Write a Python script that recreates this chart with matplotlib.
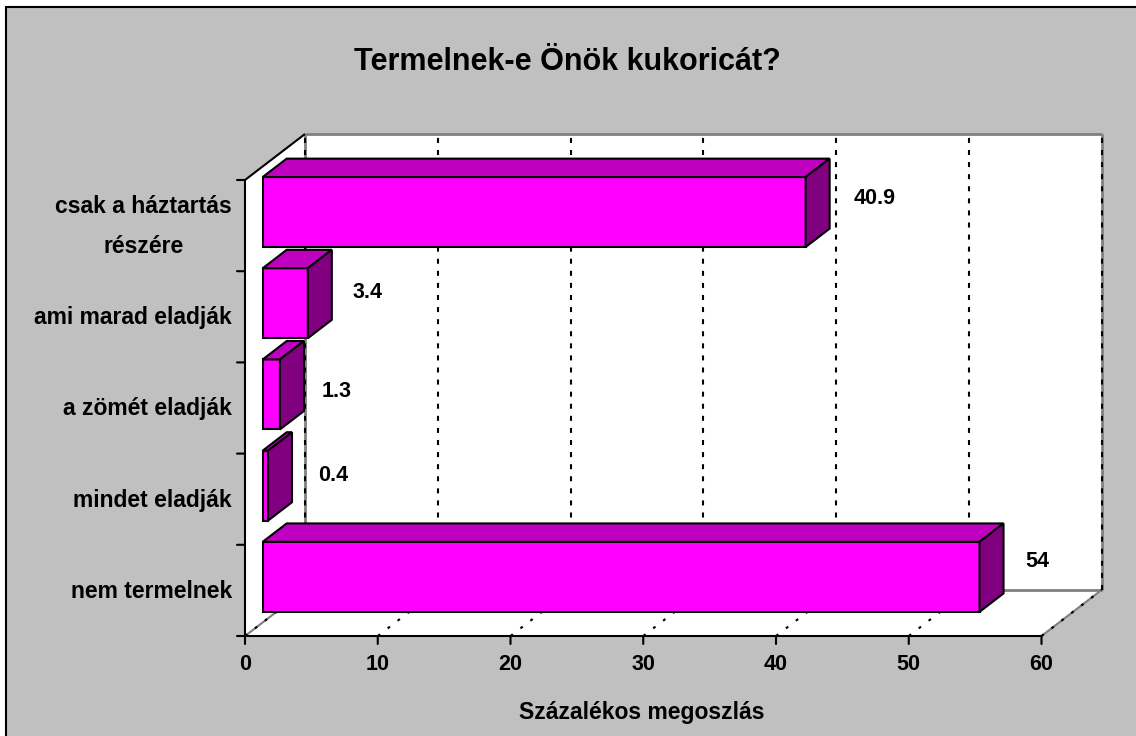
import matplotlib
matplotlib.use("Agg")
import matplotlib.pyplot as plt
from matplotlib.patches import Polygon, Rectangle

plt.rcParams['font.family'] = ['Liberation Sans', 'DejaVu Sans']
plt.rcParams['font.weight'] = 'bold'

title = "Termelnek-e Önök kukoricát?"
xlabel = "Százalékos megoszlás"
categories = ["nem termelnek", "mindet eladják", "a zömét eladják", "ami marad eladják", "csak a háztartás\nrészére"]
values = [54, 0.4, 1.3, 3.4, 40.9]
x_ticks = [0, 10, 20, 30, 40, 50, 60]

# pixel offsets of the value labels from the bar end
label_dx = [58, 65, 57, 60, 69]
label_dy = [15, 10, 3, 11, 14]

W, H = 1136, 736
X0, X1 = 245, 1041.5
Y0, Y1 = 636, 180
DEPTH_X, DEPTH_Y = 60, 46
BAR_D0, BAR_D1 = 0.295, 0.695
BAR_H = 70 / 91.2
LW = 1.5

fig = plt.figure(figsize=(W / 100, H / 100), dpi=100, facecolor='white')
ax = fig.add_axes([X0 / W, 1 - Y0 / H, (X1 - X0) / W, (Y0 - Y1) / H])
ax.set_xlim(0, x_ticks[-1])
ax.set_ylim(0, len(categories))
ax.axis('off')

sx = x_ticks[-1] / (X1 - X0)
sy = len(categories) / (Y0 - Y1)
xmax = x_ticks[-1]
ymax = len(categories)


def pt(v, c, d=0.0):
    # value, category position and depth (0 front, 1 back) to axes data coords
    return (v + d * DEPTH_X * sx, c + d * DEPTH_Y * sy)


def poly(points, face, edge='black', lw=LW, z=2):
    ax.add_patch(Polygon(points, closed=True, facecolor=face, edgecolor=edge, linewidth=lw,
                         zorder=z, clip_on=False, joinstyle='miter'))


def line(a, b, **kw):
    ax.plot([a[0], b[0]], [a[1], b[1]], clip_on=False, solid_capstyle='butt', dash_capstyle='butt', **kw)


# background panel
fig.add_artist(Rectangle((6 / W, -0.01), 1.1, 1 - 7 / H + 0.01, transform=fig.transFigure,
                         facecolor='#c0c0c0', edgecolor='black', linewidth=LW, zorder=-5))

# walls
poly([pt(0, 0, 1), pt(xmax, 0, 1), pt(xmax, ymax, 1), pt(0, ymax, 1)], 'white', edge='none', lw=0, z=1)
poly([pt(0, 0), pt(xmax, 0), pt(xmax, 0, 1), pt(0, 0, 1)], 'white', edge='none', lw=0, z=1)
poly([pt(0, 0), pt(0, 0, 1), pt(0, ymax, 1), pt(0, ymax)], 'white', edge='none', lw=0, z=1)

gray = '#808080'
line(pt(0, 0, 1), pt(xmax, 0, 1), color=gray, lw=2, zorder=1.2)
line(pt(xmax, 0, 1), pt(xmax, ymax, 1), color=gray, lw=2, zorder=1.2)
line(pt(0, ymax, 1), pt(xmax, ymax, 1), color=gray, lw=2, zorder=1.2)
line(pt(0, 0, 1), pt(0, ymax, 1), color=gray, lw=2, zorder=1.2)
line(pt(0, 0), pt(0, 0, 1), color=gray, lw=LW, zorder=1.2)
line(pt(xmax, 0), pt(xmax, 0, 1), color=gray, lw=LW, zorder=1.2)

# dashed grid on back wall and floor
for t in x_ticks:
    line(pt(t, 0, 1), pt(t, ymax, 1), color='black', lw=LW, linestyle=(0, (2.4, 3.4)), zorder=1.4)
    line(pt(t, 0), pt(t, 0, 1), color='black', lw=LW, linestyle=(0, (1.4, 4.6)), zorder=1.4)

# bars, top one first so the lower ones overlap it
for i in reversed(range(len(categories))):
    v = values[i]
    lo = i + 0.5 - BAR_H / 2
    hi = i + 0.5 + BAR_H / 2
    z = 3 + (len(categories) - i) * 0.1
    poly([pt(0, lo, BAR_D0), pt(v, lo, BAR_D0), pt(v, hi, BAR_D0), pt(0, hi, BAR_D0)], '#ff00ff', z=z)
    poly([pt(0, hi, BAR_D0), pt(v, hi, BAR_D0), pt(v, hi, BAR_D1), pt(0, hi, BAR_D1)], '#c000c0', z=z)
    poly([pt(v, lo, BAR_D0), pt(v, lo, BAR_D1), pt(v, hi, BAR_D1), pt(v, hi, BAR_D0)], '#800080', z=z)
    ax.annotate(str(v), xy=pt(v, i + 0.5, BAR_D0), xytext=(label_dx[i], label_dy[i]), textcoords='offset pixels',
                ha='center', va='center', fontsize=15.5, fontweight='bold', color='black', zorder=6,
                annotation_clip=False)
    ax.annotate(categories[i], xy=(0, i + 0.5), xytext=(-13, -1), textcoords='offset pixels',
                ha='right', va='center', multialignment='center', fontsize=16.5, fontweight='bold',
                linespacing=1.95, zorder=6, annotation_clip=False)

# front axes lines and ticks
line(pt(0, 0), pt(0, ymax), color='black', lw=LW, zorder=2)
line(pt(0, 0), pt(xmax, 0), color='black', lw=LW, zorder=2)
line(pt(0, ymax), pt(0, ymax, 1), color='black', lw=LW, zorder=2)
for c in range(len(categories) + 1):
    ax.annotate('', xy=(0, c), xytext=(-8, 0), textcoords='offset pixels', annotation_clip=False,
                arrowprops=dict(arrowstyle='-', color='black', lw=LW, shrinkA=0, shrinkB=0))
for t in x_ticks:
    ax.annotate('', xy=(t, 0), xytext=(0, -8), textcoords='offset pixels', annotation_clip=False,
                arrowprops=dict(arrowstyle='-', color='black', lw=LW, shrinkA=0, shrinkB=0))
    ax.annotate(str(t), xy=(t, 0), xytext=(0, -28), textcoords='offset pixels', ha='center', va='center',
                fontsize=15.5, fontweight='bold', annotation_clip=False)

fig.text(567.5 / W, 1 - 62 / H, title, ha='center', va='center', fontsize=22, fontweight='bold')
fig.text(642 / W, 1 - 712 / H, xlabel, ha='center', va='center', fontsize=16.5, fontweight='bold')

fig.savefig('out.png', dpi=100)
